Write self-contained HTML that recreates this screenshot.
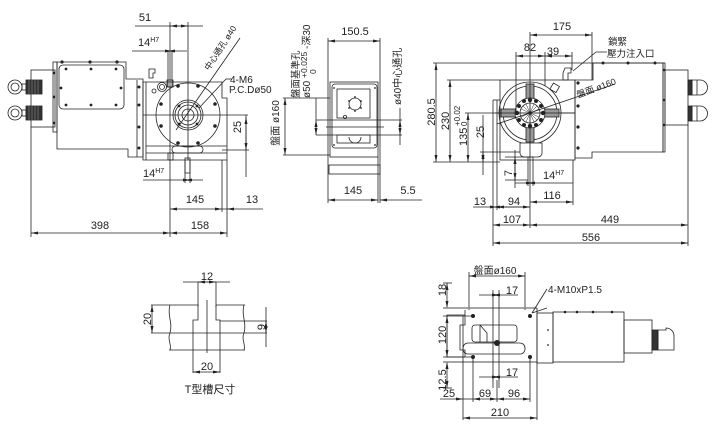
<!DOCTYPE html>
<html><head><meta charset="utf-8">
<style>
html,body{margin:0;padding:0;background:#fff;}
svg{display:block;}
text{font-family:"Liberation Sans","Noto Sans CJK TC",sans-serif;fill:#222;stroke:none;}
</style></head>
<body>
<svg width="714" height="428" viewBox="0 0 714 428" xmlns="http://www.w3.org/2000/svg">
<defs>
<marker id="a" viewBox="0 0 7 3" refX="7" refY="1.5" markerWidth="7" markerHeight="3" markerUnits="userSpaceOnUse" orient="auto-start-reverse"><path d="M0,0L7,1.5L0,3z" fill="#222"/></marker>
</defs>
<g stroke="#222" stroke-width="0.8" fill="none">

<!-- ================= LEFT VIEW ================= -->
<rect x="31" y="70" width="24" height="57"/>
<circle cx="15" cy="87" r="7"/><circle cx="15" cy="87" r="4"/>
<circle cx="15" cy="113" r="7"/><circle cx="15" cy="113" r="4"/>
<rect x="22" y="84" width="4" height="6"/><rect x="22" y="110" width="4" height="6"/>
<rect x="26" y="80" width="16" height="14" fill="#333"/>
<rect x="26" y="106" width="16" height="14" fill="#333"/>
<path d="M29,80v14M32,80v14M35,80v14M38,80v14M29,106v14M32,106v14M35,106v14M38,106v14" stroke="#888" stroke-width="0.6"/>
<rect x="53" y="62" width="4" height="70"/>
<polygon points="57,62 126,62 126,79 143,79 143,157 128,157 128,149 57,149"/>
<rect x="59" y="65" width="65" height="44" rx="4"/>
<line x1="137" y1="80" x2="137" y2="157"/>
<polygon points="143,82 222,82 222,98 227,98 227,160 143,160"/>
<line x1="146" y1="82" x2="146" y2="160"/>
<line x1="146" y1="146" x2="227" y2="146"/>
<line x1="146" y1="153" x2="227" y2="153"/>
<rect x="172" y="146" width="31" height="7" rx="3.5"/>
<rect x="168" y="153" width="5" height="7"/>
<rect x="185" y="158" width="5" height="15"/>
<rect x="168" y="51" width="4" height="36"/>
<rect x="167" y="80" width="6" height="7"/>
<circle cx="188" cy="115" r="32"/>
<circle cx="188" cy="115" r="15"/>
<circle cx="188" cy="115" r="13"/>
<circle cx="188" cy="115" r="10"/>
<circle cx="188" cy="115" r="6"/>
<circle cx="162" cy="87" r="4.5"/><circle cx="162" cy="87" r="2.5"/><circle cx="154" cy="91" r="2"/>
<path d="M149,69h6v4h-2v5h-4z"/>
<line x1="143" y1="115" x2="248" y2="115"/>
<line x1="188" y1="22" x2="188" y2="160"/>
<line x1="240" y1="38" x2="176" y2="130"/>
<line x1="232" y1="79" x2="226" y2="79"/>
<line x1="226" y1="79" x2="199" y2="108"/>
<line x1="170" y1="22" x2="170" y2="237"/>
<line x1="135" y1="26" x2="203" y2="26"/>
<line x1="170" y1="26" x2="188" y2="26" marker-start="url(#a)" marker-end="url(#a)"/>
<line x1="132" y1="51" x2="187" y2="51"/>
<line x1="168" y1="51" x2="172" y2="51" marker-start="url(#a)" marker-end="url(#a)"/>
<line x1="222" y1="150" x2="249" y2="150"/>
<line x1="246" y1="115" x2="246" y2="177"/>
<line x1="246" y1="117" x2="246" y2="150" marker-start="url(#a)" marker-end="url(#a)"/>
<line x1="185" y1="160" x2="185" y2="183"/><line x1="190" y1="160" x2="190" y2="183"/>
<line x1="143" y1="180" x2="203" y2="180"/>
<line x1="185" y1="180" x2="190" y2="180" marker-start="url(#a)" marker-end="url(#a)"/>
<line x1="222" y1="160" x2="222" y2="212"/>
<line x1="227" y1="160" x2="227" y2="237"/>
<line x1="170" y1="209" x2="222" y2="209" marker-start="url(#a)" marker-end="url(#a)"/>
<line x1="222" y1="209" x2="263" y2="209"/>
<line x1="227" y1="209" x2="233" y2="209" marker-start="url(#a)"/>
<line x1="31" y1="127" x2="31" y2="237"/>
<line x1="31" y1="233" x2="170" y2="233" marker-start="url(#a)" marker-end="url(#a)"/>
<line x1="170" y1="233" x2="227" y2="233" marker-start="url(#a)" marker-end="url(#a)"/>

<!-- ================= MIDDLE VIEW ================= -->
<line x1="328" y1="38" x2="328" y2="203"/>
<line x1="380" y1="38" x2="380" y2="203"/>
<line x1="378" y1="157" x2="378" y2="203"/>
<line x1="328" y1="41" x2="380" y2="41" marker-start="url(#a)" marker-end="url(#a)"/>
<rect x="330" y="82" width="48" height="75"/>
<rect x="332" y="84" width="45" height="64" rx="3"/>
<rect x="337" y="89" width="33" height="29"/>
<rect x="337" y="135" width="33" height="8"/>
<circle cx="355" cy="104" r="6"/>
<circle cx="345" cy="117" r="1.6"/>
<path d="M349,137a6,6 0 0 0 12,0"/>
<line x1="316" y1="120" x2="402" y2="120"/>
<line x1="316" y1="135" x2="402" y2="135"/>
<line x1="326" y1="127" x2="384" y2="127"/>
<rect x="329" y="165" width="51" height="9"/>
<line x1="283" y1="98" x2="330" y2="98"/>
<line x1="283" y1="155" x2="330" y2="155"/>
<line x1="285" y1="98" x2="285" y2="155" marker-start="url(#a)" marker-end="url(#a)"/>
<line x1="316" y1="98" x2="316" y2="120"/>
<line x1="316" y1="120" x2="316" y2="135" marker-start="url(#a)" marker-end="url(#a)"/>
<line x1="400" y1="108" x2="400" y2="145"/>
<line x1="400" y1="120" x2="400" y2="135" marker-start="url(#a)" marker-end="url(#a)"/>
<line x1="328" y1="200" x2="378" y2="200" marker-start="url(#a)" marker-end="url(#a)"/>
<line x1="380" y1="200" x2="422" y2="200"/>
<line x1="380" y1="200" x2="386" y2="200" marker-start="url(#a)"/>

<!-- ================= RIGHT VIEW ================= -->
<line x1="433" y1="63" x2="663" y2="63"/>
<line x1="433" y1="162" x2="500" y2="162"/>
<line x1="436" y1="63" x2="436" y2="162" marker-start="url(#a)" marker-end="url(#a)"/>
<line x1="447" y1="80" x2="500" y2="80"/>
<line x1="450" y1="80" x2="450" y2="162" marker-start="url(#a)" marker-end="url(#a)"/>
<line x1="465" y1="113" x2="575" y2="113"/>
<line x1="468" y1="113" x2="468" y2="162" marker-start="url(#a)" marker-end="url(#a)"/>
<line x1="480" y1="152" x2="520" y2="152"/>
<line x1="483" y1="115" x2="483" y2="175"/>
<line x1="483" y1="152" x2="483" y2="162" marker-start="url(#a)" marker-end="url(#a)"/>
<rect x="500" y="80" width="75" height="80"/>
<line x1="493" y1="100" x2="493" y2="246"/>
<line x1="497" y1="100" x2="497" y2="210"/>
<line x1="493" y1="100" x2="500" y2="100"/>
<polygon points="593,63 663,63 663,152 592,152 592,158 575,158 575,80 593,80"/>
<rect x="663" y="63" width="2" height="89"/>
<rect x="665" y="70" width="23" height="55"/>
<rect x="688" y="80" width="4" height="15" fill="#333"/>
<rect x="688" y="106" width="4" height="15" fill="#333"/>
<path d="M692,80h8a7.5,7.5 0 0 1 0,15h-8zM692,106h8a7.5,7.5 0 0 1 0,15h-8z"/>
<line x1="697" y1="80" x2="697" y2="95"/><line x1="697" y1="106" x2="697" y2="121"/>
<circle cx="530" cy="113" r="31"/>
<circle cx="530" cy="113" r="27"/>
<rect x="501" y="109" width="58" height="8" fill="#999"/>
<rect x="526" y="84" width="8" height="58" fill="#999"/>
<circle cx="530" cy="113" r="15" fill="#fff"/>
<circle cx="530" cy="113" r="10"/>
<path d="M520,113h20M530,103v20M523,106l14,14M537,106l-14,14M521,109l18,8M521,117l18,-8M526,104l8,18M534,104l-8,18" stroke-width="0.5"/>
<path d="M520,143h22v10a4,4 0 0 1 -4,4h-14a4,4 0 0 1 -4,-4z" fill="#fff"/>
<rect x="528" y="157" width="5" height="26"/>
<path d="M565,68h6v5h-3v7h-5v-7z"/>
<rect x="551" y="84" width="7" height="7" transform="rotate(30 554 88)"/>
<line x1="495" y1="113" x2="575" y2="113"/>
<line x1="530" y1="32" x2="530" y2="228"/>
<line x1="530" y1="35" x2="592" y2="35" marker-start="url(#a)" marker-end="url(#a)"/>
<line x1="592" y1="32" x2="592" y2="80"/>
<line x1="516" y1="52" x2="516" y2="113"/>
<line x1="545" y1="52" x2="545" y2="86"/>
<line x1="572" y1="52" x2="572" y2="70"/>
<line x1="516" y1="56" x2="545" y2="56" marker-start="url(#a)" marker-end="url(#a)"/>
<line x1="545" y1="56" x2="572" y2="56" marker-start="url(#a)" marker-end="url(#a)"/>
<path d="M607,52h-11l-23,19"/>
<line x1="615" y1="84" x2="497" y2="124"/>
<line x1="505" y1="157" x2="528" y2="157"/>
<line x1="505" y1="180" x2="528" y2="180"/>
<line x1="515" y1="150" x2="515" y2="188"/>
<line x1="515" y1="157" x2="515" y2="180" marker-start="url(#a)" marker-end="url(#a)"/>
<line x1="528" y1="183" x2="528" y2="186"/><line x1="533" y1="183" x2="533" y2="186"/>
<line x1="515" y1="183" x2="573" y2="183"/>
<line x1="528" y1="183" x2="533" y2="183" marker-start="url(#a)" marker-end="url(#a)"/>
<line x1="573" y1="160" x2="573" y2="205"/>
<line x1="473" y1="207" x2="530" y2="207"/>
<line x1="493" y1="207" x2="497" y2="207" marker-start="url(#a)" marker-end="url(#a)"/>
<line x1="497" y1="207" x2="530" y2="207" marker-start="url(#a)" marker-end="url(#a)"/>
<line x1="530" y1="202" x2="573" y2="202" marker-start="url(#a)" marker-end="url(#a)"/>
<line x1="688" y1="125" x2="688" y2="246"/>
<line x1="493" y1="225" x2="530" y2="225" marker-start="url(#a)" marker-end="url(#a)"/>
<line x1="530" y1="225" x2="688" y2="225" marker-start="url(#a)" marker-end="url(#a)"/>
<line x1="493" y1="243" x2="688" y2="243" marker-start="url(#a)" marker-end="url(#a)"/>

<!-- ================= T SLOT ================= -->
<line x1="198" y1="282" x2="198" y2="307"/>
<line x1="216" y1="282" x2="216" y2="307"/>
<line x1="183" y1="282" x2="230" y2="282"/>
<line x1="198" y1="282" x2="216" y2="282" marker-start="url(#a)" marker-end="url(#a)"/>
<path d="M151,305H198V320H193V373M216,305V320H220V373M216,305H245"/>
<line x1="151" y1="333" x2="245" y2="333"/>
<line x1="169" y1="350" x2="245" y2="350"/>
<path d="M170,305c-3,10 3,18 0,28c-3,6 2,12 0,17"/>
<path d="M244,305c-3,10 3,18 0,28c-3,6 2,12 0,17"/>
<line x1="152" y1="305" x2="152" y2="333" marker-start="url(#a)" marker-end="url(#a)"/>
<line x1="220" y1="321" x2="267" y2="321"/>
<line x1="245" y1="333" x2="267" y2="333"/>
<line x1="266" y1="307" x2="266" y2="347"/>
<line x1="266" y1="321" x2="266" y2="333" marker-start="url(#a)" marker-end="url(#a)"/>
<line x1="207" y1="300" x2="207" y2="353"/>
<line x1="193" y1="372" x2="220" y2="372" marker-start="url(#a)" marker-end="url(#a)"/>

<!-- ================= BOTTOM RIGHT VIEW ================= -->
<line x1="469" y1="272" x2="469" y2="310"/>
<line x1="525" y1="272" x2="525" y2="310"/>
<line x1="469" y1="276" x2="525" y2="276" marker-start="url(#a)" marker-end="url(#a)"/>
<line x1="443" y1="283" x2="452" y2="283"/>
<line x1="447" y1="283" x2="447" y2="308" marker-start="url(#a)" marker-end="url(#a)"/>
<line x1="443" y1="316" x2="473" y2="316"/>
<line x1="443" y1="357" x2="473" y2="357"/>
<line x1="447" y1="316" x2="447" y2="357" marker-start="url(#a)" marker-end="url(#a)"/>
<line x1="443" y1="388" x2="452" y2="388"/>
<line x1="447" y1="362" x2="447" y2="388" marker-start="url(#a)" marker-end="url(#a)"/>
<line x1="443" y1="308" x2="537" y2="308" stroke="#888" stroke-width="1.6"/>
<line x1="443" y1="362" x2="537" y2="362" stroke="#888" stroke-width="1.6"/>
<polygon points="447,315 465,315 465,325 460,325 460,350 465,350 465,357 447,357"/>
<line x1="465" y1="310" x2="465" y2="315"/>
<rect x="472" y="325" width="45" height="17" rx="3"/>
<path d="M480,325v17M480,325l7,8v9"/>
<rect x="463" y="343" width="62" height="11" rx="5"/>
<line x1="493" y1="290" x2="493" y2="388"/>
<line x1="499" y1="290" x2="499" y2="388"/>
<line x1="479" y1="295" x2="518" y2="295"/>
<line x1="493" y1="295" x2="499" y2="295" marker-start="url(#a)" marker-end="url(#a)"/>
<line x1="479" y1="377" x2="518" y2="377"/>
<line x1="493" y1="377" x2="499" y2="377" marker-start="url(#a)" marker-end="url(#a)"/>
<line x1="537" y1="308" x2="537" y2="420"/>
<rect x="537" y="313" width="16" height="50"/>
<rect x="553" y="312" width="71" height="50"/>
<rect x="624" y="320" width="28" height="33"/>
<rect x="652" y="330" width="6" height="20" fill="#333"/>
<path d="M658,330h8v-2a8,8 0 0 1 8,8v14h-16z"/>
<line x1="547" y1="308" x2="532" y2="313"/>
<path d="M547,289l-15,24"/>
<line x1="463" y1="316" x2="463" y2="420"/>
<line x1="473" y1="357" x2="473" y2="402"/>
<line x1="497" y1="380" x2="497" y2="402"/>
<line x1="530" y1="357" x2="530" y2="402"/>
<line x1="440" y1="399" x2="463" y2="399" marker-end="url(#a)"/>
<line x1="463" y1="399" x2="473" y2="399"/>
<line x1="473" y1="399" x2="497" y2="399" marker-start="url(#a)" marker-end="url(#a)"/>
<line x1="497" y1="399" x2="530" y2="399" marker-start="url(#a)" marker-end="url(#a)"/>
<line x1="463" y1="418" x2="537" y2="418" marker-start="url(#a)" marker-end="url(#a)"/>
</g>

<!-- filled dots (bolts) -->
<g fill="#222">
<circle cx="62" cy="62" r="1.6"/><circle cx="90" cy="62" r="1.6"/><circle cx="117" cy="62" r="1.6"/>
<circle cx="66" cy="69" r="1.4"/><circle cx="91" cy="69" r="1.4"/><circle cx="116" cy="69" r="1.4"/>
<circle cx="66" cy="105" r="1.4"/><circle cx="91" cy="105" r="1.4"/><circle cx="116" cy="105" r="1.4"/>
<circle cx="61" cy="88" r="1.4"/><circle cx="121" cy="88" r="1.4"/>
<circle cx="54" cy="73" r="1.4"/><circle cx="54" cy="97" r="1.4"/><circle cx="54" cy="123" r="1.4"/>
<circle cx="139" cy="87" r="1.5"/><circle cx="139" cy="105" r="1.5"/><circle cx="139" cy="127" r="1.5"/><circle cx="139" cy="148" r="1.5"/>
<circle cx="178" cy="86" r="1.8"/><circle cx="198" cy="86" r="1.8"/><circle cx="161" cy="104" r="1.8"/><circle cx="215" cy="104" r="1.8"/>
<circle cx="161" cy="126" r="1.8"/><circle cx="215" cy="126" r="1.8"/><circle cx="178" cy="143" r="1.8"/><circle cx="198" cy="143" r="1.8"/>
<circle cx="197" cy="106" r="1.4"/><circle cx="179" cy="106" r="1.4"/><circle cx="197" cy="124" r="1.4"/><circle cx="179" cy="124" r="1.4"/>
<circle cx="355" cy="97" r="0.9"/><circle cx="361" cy="101" r="0.9"/><circle cx="361" cy="108" r="0.9"/><circle cx="355" cy="111" r="0.9"/><circle cx="349" cy="108" r="0.9"/><circle cx="349" cy="101" r="0.9"/>
<circle cx="334" cy="88" r="0.9"/><circle cx="375" cy="88" r="0.9"/><circle cx="334" cy="145" r="0.9"/><circle cx="375" cy="145" r="0.9"/>
<circle cx="578" cy="83" r="1.6"/><circle cx="578" cy="106" r="1.6"/><circle cx="578" cy="127" r="1.6"/><circle cx="578" cy="148" r="1.6"/>
<circle cx="603" cy="63" r="1.5"/><circle cx="628" cy="63" r="1.5"/><circle cx="655" cy="63" r="1.5"/>
<circle cx="664" cy="70" r="1.2"/><circle cx="664" cy="100" r="1.2"/><circle cx="664" cy="125" r="1.2"/>
<!-- bolt ring right view -->
<circle cx="543" cy="113" r="2.2"/><circle cx="517" cy="113" r="2.2"/><circle cx="530" cy="100" r="2.2"/><circle cx="530" cy="126" r="2.2"/>
<circle cx="541" cy="106" r="2"/><circle cx="519" cy="106" r="2"/><circle cx="541" cy="120" r="2"/><circle cx="519" cy="120" r="2"/>
<circle cx="536" cy="101" r="2"/><circle cx="524" cy="101" r="2"/><circle cx="536" cy="125" r="2"/><circle cx="524" cy="125" r="2"/>
<circle cx="473" cy="316" r="2"/><circle cx="530" cy="316" r="2"/><circle cx="473" cy="357" r="2"/><circle cx="530" cy="357" r="2"/>
<circle cx="497" cy="343" r="3"/>
<circle cx="548" cy="330" r="0.9"/><circle cx="548" cy="345" r="0.9"/>
<circle cx="565" cy="312" r="1.3"/><circle cx="577" cy="312" r="1.3"/><circle cx="593" cy="312" r="1.3"/><circle cx="612" cy="312" r="1.3"/>
</g>

<!-- ================= TEXT ================= -->
<g font-size="11">
<text x="145" y="21" text-anchor="middle">51</text>
<text x="138" y="46">14<tspan font-size="7" dy="-4">H7</tspan></text>
<text x="143" y="177">14<tspan font-size="7" dy="-4">H7</tspan></text>
<text x="230" y="83" font-size="10">4-M6</text>
<text x="229" y="93" font-size="10">P.C.Dø50</text>
<text transform="translate(209,71) rotate(-57)" font-size="8.5">中心通孔 ø40</text>
<text transform="translate(241,127) rotate(-90)" text-anchor="middle">25</text>
<text x="195" y="203" text-anchor="middle">145</text>
<text x="252" y="203" text-anchor="middle">13</text>
<text x="100" y="229" text-anchor="middle">398</text>
<text x="200" y="229" text-anchor="middle">158</text>
<text x="355" y="35" text-anchor="middle">150.5</text>
<text transform="translate(279,123) rotate(-90)" text-anchor="middle" font-size="10">盤面 ø160</text>
<text transform="translate(299,98) rotate(-90)" font-size="9.5">盤面基準孔</text>
<text transform="translate(310,98) rotate(-90)" font-size="10">ø50 <tspan font-size="8.5" dy="-3">+0.025</tspan><tspan dy="3"> -深30</tspan></text>
<text transform="translate(316,74) rotate(-90)" font-size="8.5">0</text>
<text transform="translate(401,105) rotate(-90)" font-size="10">ø40中心通孔</text>
<text x="353" y="194" text-anchor="middle">145</text>
<text x="408" y="194" text-anchor="middle">5.5</text>
<text transform="translate(435,112) rotate(-90)" text-anchor="middle">280.5</text>
<text transform="translate(449,121) rotate(-90)" text-anchor="middle">230</text>
<text transform="translate(467,146) rotate(-90)">135</text>
<text transform="translate(460,126) rotate(-90)" font-size="8">+0.02</text>
<text transform="translate(467,126) rotate(-90)" font-size="8">0</text>
<text transform="translate(484,132) rotate(-90)" text-anchor="middle">25</text>
<text x="562" y="30" text-anchor="middle">175</text>
<text x="530" y="51" text-anchor="middle">82</text>
<text x="553" y="55" text-anchor="middle">39</text>
<text x="608" y="45" font-size="9.5">鎖緊</text>
<text x="607" y="57" font-size="9.5">壓力注入口</text>
<text transform="translate(578,98) rotate(-20)" font-size="9">盤面 ø160</text>
<text transform="translate(512,173) rotate(-90)" text-anchor="middle">7</text>
<text x="543" y="179">14<tspan font-size="7" dy="-4">H7</tspan></text>
<text x="480" y="205" text-anchor="middle">13</text>
<text x="514" y="205" text-anchor="middle">94</text>
<text x="552" y="199" text-anchor="middle">116</text>
<text x="512" y="223" text-anchor="middle">107</text>
<text x="610" y="223" text-anchor="middle">449</text>
<text x="591" y="241" text-anchor="middle">556</text>
<text x="207" y="280" text-anchor="middle">12</text>
<text transform="translate(151,319) rotate(-90)" text-anchor="middle">20</text>
<text transform="translate(265,327) rotate(-90)" text-anchor="middle">9</text>
<text x="207" y="370" text-anchor="middle">20</text>
<text x="210" y="393" text-anchor="middle">T型槽尺寸</text>
<text x="495" y="274" text-anchor="middle" font-size="10">盤面ø160</text>
<text transform="translate(446,290) rotate(-90)" text-anchor="middle">18</text>
<text transform="translate(446,335) rotate(-90)" text-anchor="middle">120</text>
<text transform="translate(446,380) rotate(-90)" text-anchor="middle">12.5</text>
<text x="548" y="293" font-size="10">4-M10xP1.5</text>
<text x="512" y="294" text-anchor="middle">17</text>
<text x="512" y="376" text-anchor="middle">17</text>
<text x="449" y="397" text-anchor="middle">25</text>
<text x="485" y="397" text-anchor="middle">69</text>
<text x="514" y="397" text-anchor="middle">96</text>
<text x="500" y="416" text-anchor="middle">210</text>
</g>
</svg>
</body></html>
